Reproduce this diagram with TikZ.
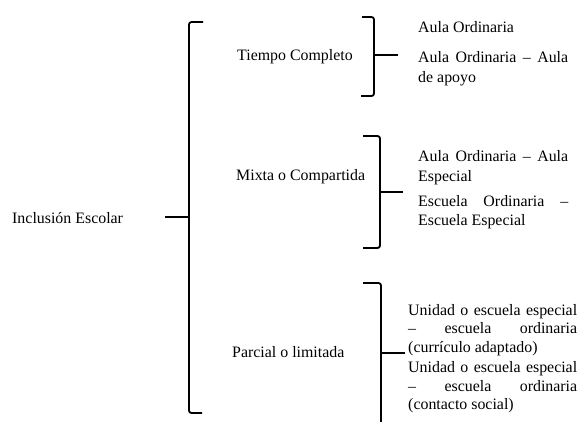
\documentclass[tikz,border=0pt]{standalone}
\usepackage{fontspec}
\setmainfont{Liberation Serif}
\begin{document}
\begin{tikzpicture}[x=1pt,y=-1pt,
  brace/.style={draw=black,line width=1.8pt,rounded corners=2.5pt},
  tip/.style={draw=black,line width=1.8pt},
  txt/.style={anchor=base west,inner sep=0pt,font=\fontsize{15.9}{19}\selectfont}]
\useasboundingbox[fill=white] (0,0) rectangle (580,421);
% left level
\node[txt] (incl) at (12,223) {Inclusión Escolar};
% main brace
\coordinate (bt) at (203,22);
\coordinate (bb) at (202,413);
\coordinate (bm) at (189,217);
\coordinate (bp) at (165,217);
\draw[brace] (bt) -- (189,22) -- (189,413) -- (bb);
\draw[tip] (bm) -- (bp);
% second level
\node[txt] (tc) at (237,60) {Tiempo Completo};
\node[txt] (mc) at (236,180) {Mixta o Compartida};
\node[txt] (pl) at (232,357) {Parcial o limitada};
% brace 1
\coordinate (t1) at (362,17);
\coordinate (b1) at (361,96);
\coordinate (m1) at (374,55);
\coordinate (p1) at (398,55);
\draw[brace] (t1) -- (374,17) -- (374,96) -- (b1);
\draw[tip] (m1) -- (p1);
% brace 2
\coordinate (t2) at (363,136);
\coordinate (b2) at (363,248);
\coordinate (m2) at (380,192);
\coordinate (p2) at (403,192);
\draw[brace] (t2) -- (380,136) -- (380,248) -- (b2);
\draw[tip] (m2) -- (p2);
% brace 3
\coordinate (t3) at (363,283);
\coordinate (b3) at (381,423);
\coordinate (m3) at (381,353);
\coordinate (p3) at (405,353);
\draw[brace] (t3) -- (381,283) -- (b3);
\draw[tip] (m3) -- (p3);
% third level, group 1
\node[txt] (a1) at (418,32) {Aula Ordinaria};
\node[txt] (a2a) at (418,62) {\makebox[150pt][s]{Aula Ordinaria – Aula}};
\node[txt] (a2b) at (418,82) {de apoyo};
% group 2
\node[txt] (b1a) at (418,161) {\makebox[150pt][s]{Aula Ordinaria – Aula}};
\node[txt] (b1b) at (418,181) {Especial};
\node[txt] (b2a) at (418,206) {\makebox[150pt][s]{Escuela Ordinaria –}};
\node[txt] (b2b) at (418,225) {Escuela Especial};
% group 3
\node[txt] (c1a) at (408,315) {\makebox[169pt][s]{Unidad o escuela especial}};
\node[txt] (c1b) at (408,333) {\makebox[169pt][s]{– escuela ordinaria}};
\node[txt] (c1c) at (408,352) {(currículo adaptado)};
\node[txt] (c2a) at (408,372) {\makebox[169pt][s]{Unidad o escuela especial}};
\node[txt] (c2b) at (408,391) {\makebox[169pt][s]{– escuela ordinaria}};
\node[txt] (c2c) at (408,409) {(contacto social)};
\end{tikzpicture}
\end{document}
